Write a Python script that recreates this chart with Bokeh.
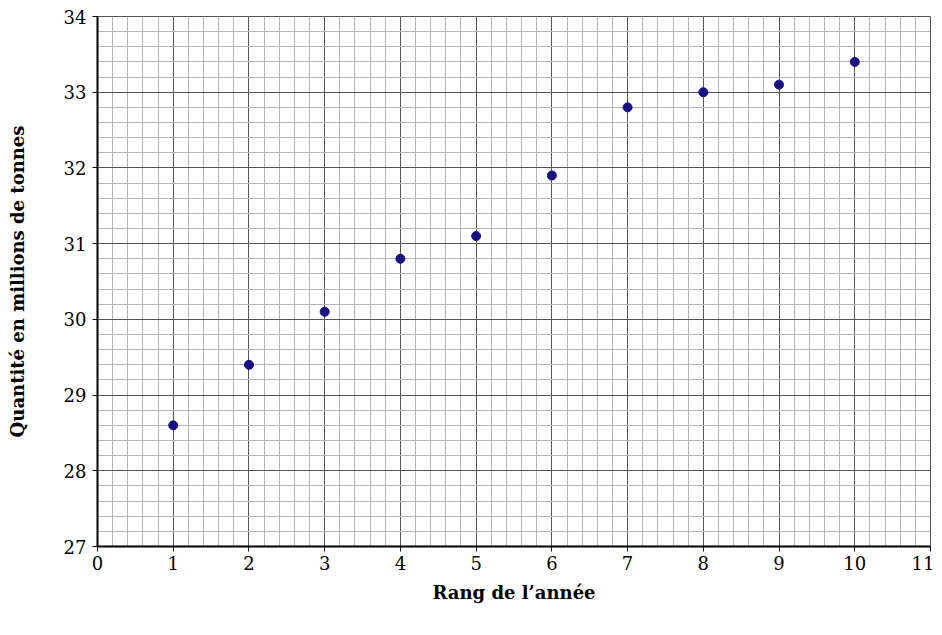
from bokeh.plotting import figure
from bokeh.models import Range1d, SingleIntervalTicker
from bokeh.embed import file_html
from bokeh.resources import INLINE

rang = [1, 2, 3, 4, 5, 6, 7, 8, 9, 10]
quantite = [28.6, 29.4, 30.1, 30.8, 31.1, 31.9, 32.8, 33.0, 33.1, 33.4]
x_label = "Rang de l’année"
y_label = "Quantité en millions de tonnes"

p = figure(width=934, height=627, output_backend="svg", toolbar_location=None,
           x_range=Range1d(0, 11), y_range=Range1d(27, 34),
           min_border_left=97, min_border_right=4, min_border_top=16, min_border_bottom=81)

xt = SingleIntervalTicker(interval=1, num_minor_ticks=5)
yt = SingleIntervalTicker(interval=1, num_minor_ticks=5)
p.xaxis.ticker = xt
p.yaxis.ticker = yt
p.xgrid.ticker = xt
p.ygrid.ticker = yt

for g in (p.xgrid, p.ygrid):
    g.grid_line_color = "#555555"
    g.grid_line_width = 1
    g.grid_line_alpha = 1
    g.minor_grid_line_color = "#b4b4b4"
    g.minor_grid_line_width = 1

p.outline_line_color = "#555555"
p.outline_line_width = 1
p.background_fill_color = "white"
p.border_fill_color = "white"

for ax in (p.xaxis, p.yaxis):
    ax.axis_line_color = "black"
    ax.axis_line_width = 2
    ax.major_tick_line_color = "black"
    ax.major_tick_line_width = 1
    ax.major_tick_in = 0
    ax.major_tick_out = 5
    ax.minor_tick_line_color = None
    ax.major_label_text_font = "DejaVu Serif"
    ax.major_label_text_font_size = "18px"
    ax.major_label_text_color = "black"
    ax.axis_label_text_font = "DejaVu Serif"
    ax.axis_label_text_font_style = "bold"
    ax.axis_label_text_font_size = "18px"
    ax.axis_label_text_color = "black"

p.xaxis.axis_label = x_label
p.yaxis.axis_label = y_label
p.xaxis.major_label_standoff = 4
p.yaxis.major_label_standoff = 6
p.xaxis.axis_label_standoff = 9
p.yaxis.axis_label_standoff = 33

p.scatter(rang, quantite, size=9, color="#1a0f80")

open("out.html", "w").write(file_html(p, INLINE))
